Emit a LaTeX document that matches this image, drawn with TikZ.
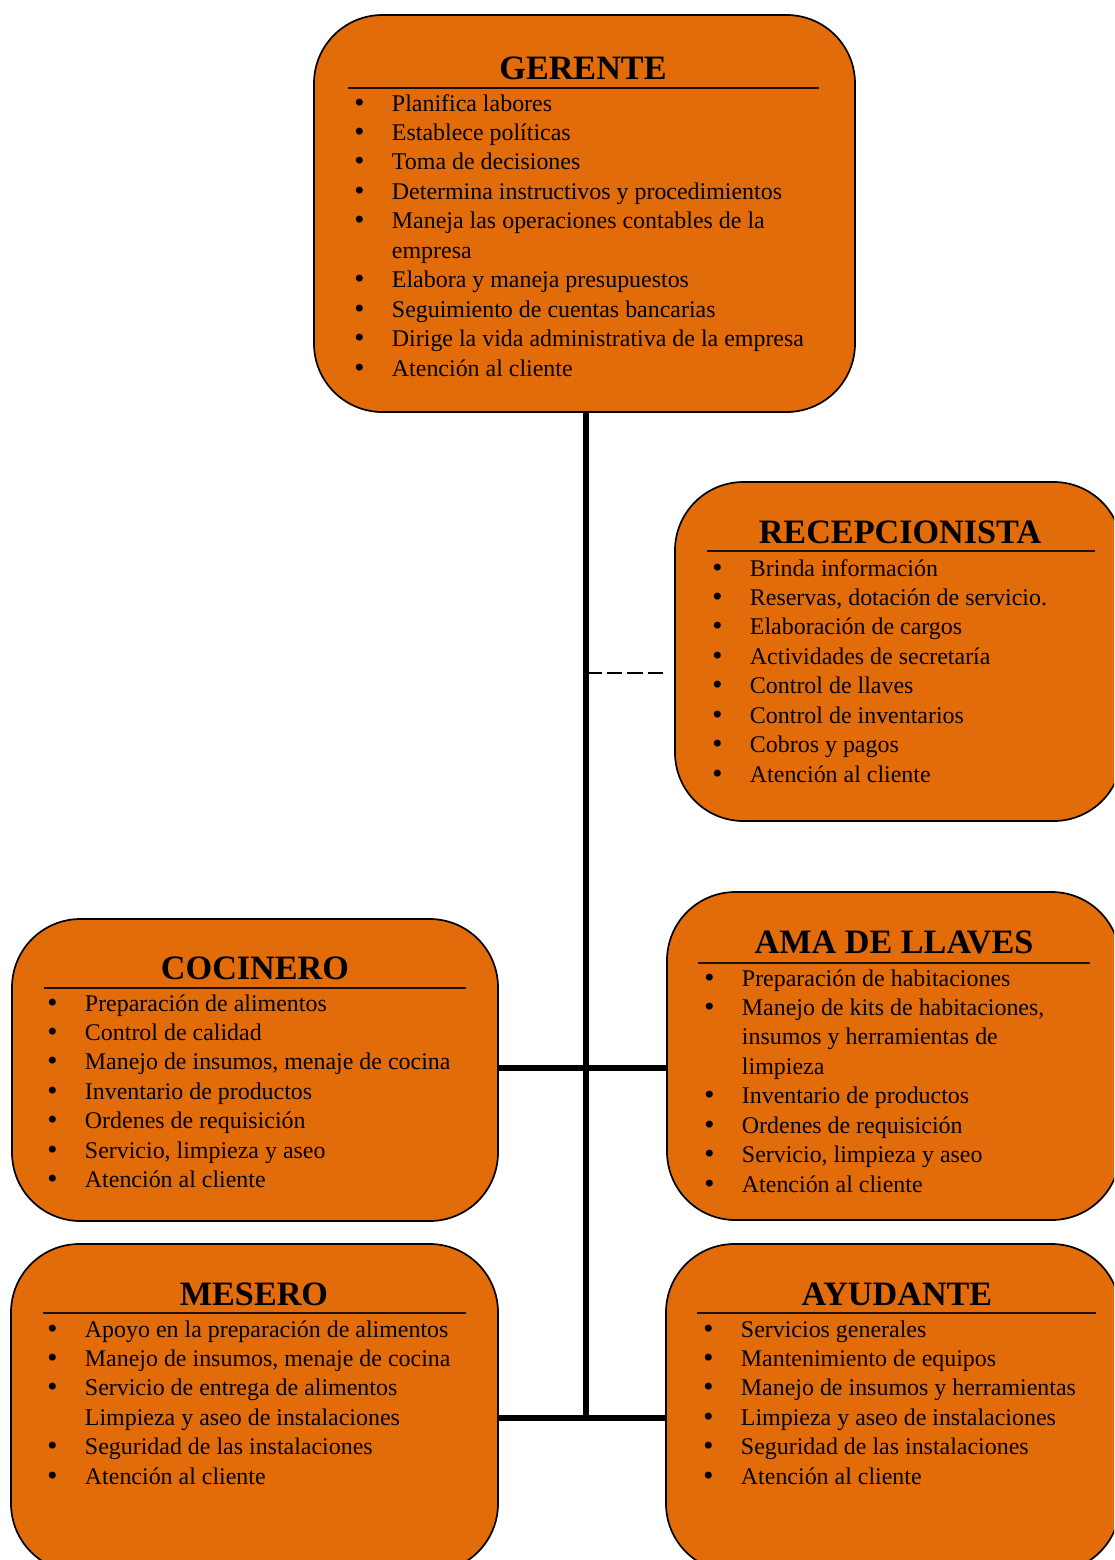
\documentclass[tikz,border=0pt]{standalone}
\usepackage{fontspec}
\setmainfont{Liberation Serif}
\newfontfamily\simbolo{DejaVu Sans}
\usetikzlibrary{fit}
\definecolor{naranja}{HTML}{E36C0A}
\tikzset{
  cargo/.style={draw=black, line width=0.8pt, fill=naranja, rounded corners=32pt, inner sep=0pt},
  titulo/.style={anchor=base, inner sep=0pt, font=\fontsize{16}{19}\selectfont\bfseries},
  lista/.style={anchor=base west, inner sep=0pt, font=\fontsize{11.2}{13.8}\selectfont},
  raya/.style={line width=0.6pt, black!85!naranja},
  tronco/.style={line width=2.6pt},
  enlace/.style={line width=1pt, dash pattern=on 7.3pt off 2.4pt, shorten >=5pt}
}
\newcommand{\vineta}{{\simbolo\textbullet}}
\newcommand{\funciones}[1]{\begin{tabular}[t]{@{}p{18.5pt}@{}l@{}}#1\end{tabular}}
\newcommand{\fn}[1]{\vineta & #1\\}
\begin{document}
\begin{tikzpicture}[x=0.468pt, y=-0.468pt]
  \clip (0,0) rectangle (1114,1560);
  \fill[white] (0,0) rectangle (1114,1560);

  % cajas
  \node[cargo, fit={(314,15) (855,412)}] (gerente) {};
  \node[cargo, fit={(675,482) (1122,821)}] (recepcionista) {};
  \node[cargo, fit={(12,919) (498,1221)}] (cocinero) {};
  \node[cargo, fit={(667,892) (1120,1220)}] (ama) {};
  \node[cargo, fit={(11,1244) (498,1572)}] (mesero) {};
  \node[cargo, fit={(666,1244) (1120,1572)}] (ayudante) {};

  % gerente
  \node[titulo] (tGerente) at (583,79) {GERENTE};
  \draw[raya] (348,88) -- (819,88);
  \node[lista] (lGerente) at (352,111) {\funciones{
    \fn{Planifica labores}
    \fn{Establece políticas}
    \fn{Toma de decisiones}
    \fn{Determina instructivos y procedimientos}
    \fn{Maneja las operaciones contables de la}
    & empresa\\
    \fn{Elabora y maneja presupuestos}
    \fn{Seguimiento de cuentas bancarias}
    \fn{Dirige la vida administrativa de la empresa}
    \fn{Atención al cliente}}};

  % recepcionista
  \node[titulo] (tRecepcionista) at (900,543) {RECEPCIONISTA};
  \draw[raya] (707,551) -- (1095,551);
  \node[lista] (lRecepcionista) at (710,576) {\funciones{
    \fn{Brinda información}
    \fn{Reservas, dotación de servicio.}
    \fn{Elaboración de cargos}
    \fn{Actividades de secretaría}
    \fn{Control de llaves}
    \fn{Control de inventarios}
    \fn{Cobros y pagos}
    \fn{Atención al cliente}}};

  % cocinero
  \node[titulo] (tCocinero) at (255,979) {COCINERO};
  \draw[raya] (44,988) -- (466,988);
  \node[lista] (lCocinero) at (45,1011) {\funciones{
    \fn{Preparación de alimentos}
    \fn{Control de calidad}
    \fn{Manejo de insumos, menaje de cocina}
    \fn{Inventario de productos}
    \fn{Ordenes de requisición}
    \fn{Servicio, limpieza y aseo}
    \fn{Atención al cliente}}};

  % ama de llaves
  \node[titulo] (tAma) at (894,953) {AMA DE LLAVES};
  \draw[raya] (698,963) -- (1090,963);
  \node[lista] (lAma) at (702,986) {\funciones{
    \fn{Preparación de habitaciones}
    \fn{Manejo de kits de habitaciones,}
    & insumos y herramientas de\\
    & limpieza\\
    \fn{Inventario de productos}
    \fn{Ordenes de requisición}
    \fn{Servicio, limpieza y aseo}
    \fn{Atención al cliente}}};

  % mesero
  \node[titulo] (tMesero) at (254,1305) {MESERO};
  \draw[raya] (43,1313) -- (466,1313);
  \node[lista] (lMesero) at (45,1337) {\funciones{
    \fn{Apoyo en la preparación de alimentos}
    \fn{Manejo de insumos, menaje de cocina}
    \fn{Servicio de entrega de alimentos}
    & Limpieza y aseo de instalaciones\\
    \fn{Seguridad de las instalaciones}
    \fn{Atención al cliente}}};

  % ayudante
  \node[titulo] (tAyudante) at (897,1305) {AYUDANTE};
  \draw[raya] (697,1313) -- (1096,1313);
  \node[lista] (lAyudante) at (701,1337) {\funciones{
    \fn{Servicios generales}
    \fn{Mantenimiento de equipos}
    \fn{Manejo de insumos y herramientas}
    \fn{Limpieza y aseo de instalaciones}
    \fn{Seguridad de las instalaciones}
    \fn{Atención al cliente}}};

  % lineas
  \coordinate (nudoRec) at (586,673);
  \coordinate (nudoCoc) at (586,1068);
  \coordinate (nudoMes) at (586,1418);
  \draw[tronco] (gerente.south -| nudoMes) -- (nudoMes);
  \draw[tronco] (cocinero.east |- nudoCoc) -- (ama.west |- nudoCoc);
  \draw[tronco] (mesero.east |- nudoMes) -- (ayudante.west |- nudoMes);
  \draw[enlace] (nudoRec) -- (recepcionista.west |- nudoRec);
\end{tikzpicture}
\end{document}
